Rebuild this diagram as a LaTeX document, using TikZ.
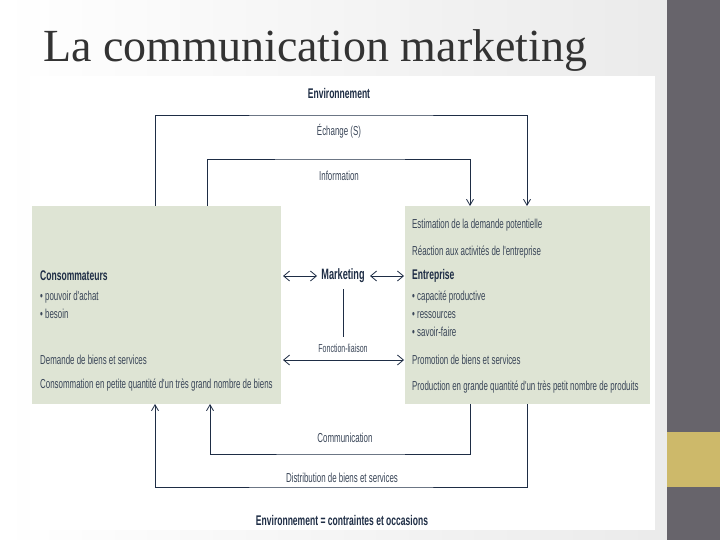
\documentclass[tikz,border=0pt]{standalone}
\usepackage{fontspec}
\setmainfont{Liberation Serif}
\newfontfamily\cond[FakeStretch=0.61]{Liberation Sans}
\usetikzlibrary{arrows.meta}
\definecolor{ink}{HTML}{1E2D45}
\definecolor{txt}{HTML}{3A4658}
\definecolor{boxg}{HTML}{DEE4D4}
\definecolor{side}{HTML}{67646B}
\definecolor{gold}{HTML}{CDB96A}
\tikzset{
  lbl/.style={font=\cond\fontsize{13}{15}\selectfont, text=txt, inner sep=0pt},
  blbl/.style={font=\cond\bfseries\fontsize{14}{16}\selectfont, text=ink, inner sep=0pt},
  line/.style={draw=ink, line width=0.8pt},
  arr/.style={line, -{Straight Barb[length=6pt,width=7pt]}},
  darr/.style={line, {Straight Barb[length=6pt,width=10pt]}-{Straight Barb[length=6pt,width=10pt]}},
  box/.style={fill=boxg, draw=none}
}
\begin{document}
\begin{tikzpicture}[x=1pt,y=-1pt]
\useasboundingbox (0,0) rectangle (720,540);
\fill[left color=white, right color=black!8] (0,0) rectangle (667,540);
\fill[side] (667,0) rectangle (720,540);
\fill[gold] (667,432) rectangle (720,487);
\fill[white] (30,76) rectangle (655,530);
\node[anchor=base west, inner sep=0pt, font=\fontsize{46}{48}\selectfont, text=black!80] (title) at (43,62) {La communication marketing};
% boxes
\node[box, minimum width=249pt, minimum height=198pt, anchor=north west, inner sep=0pt] (L) at (32,206) {};
\node[box, minimum width=245pt, minimum height=198pt, anchor=north west, inner sep=0pt] (R) at (405,206) {};
% top texts
\node[blbl] (env) at (339,93) {Environnement};
\node[lbl] (ech) at (339,131) {Échange (S)};
\node[lbl] (inf) at (339,176) {Information};
\node[lbl] (com) at (345,438) {Communication};
\node[lbl] (dist) at (342,478) {Distribution de biens et services};
\node[blbl] (env2) at (342,520) {Environnement = contraintes et occasions};
% loops
\coordinate (a1) at (155,206); \coordinate (a2) at (527,206);
\coordinate (b1) at (207,206); \coordinate (b2) at (470,206);
\draw[arr] (a1) |- (341,115) -| (a2);
\draw[arr] (b1) |- (341,159) -| (b2);
\coordinate (c1) at (155,404); \coordinate (c2) at (527,404);
\coordinate (d1) at (210,404); \coordinate (d2) at (470,404);
\draw[arr] (c2) |- (341,487) -| (c1);
\draw[arr] (d2) |- (341,454) -| (d1);
% marketing
\node[blbl, font=\cond\bfseries\fontsize{15}{17}\selectfont] (mk) at (343,276) {Marketing};
\coordinate (m1) at (283,276); \coordinate (m2) at (317,276);
\coordinate (m3) at (370,276); \coordinate (m4) at (404,276);
\draw[darr] (m1) -- (m2);
\draw[darr] (m3) -- (m4);
\coordinate (fl) at (343,337);
\draw[line] (mk.south) ++(0,6) -- (fl);
\node[lbl, font=\cond\fontsize{11.5}{13}\selectfont] (fon) at (343,348) {Fonction-liaison};
\coordinate (f1) at (283,360); \coordinate (f2) at (404,360);
\draw[darr] (f1) -- (f2);
% left box text
\node[blbl, anchor=west] (cons) at (40,276) {Consommateurs};
\node[lbl, anchor=west] (l1) at (40,297) {• pouvoir d'achat};
\node[lbl, anchor=west] (l2) at (40,314) {• besoin};
\node[lbl, anchor=west] (l3) at (40,360) {Demande de biens et services};
\node[lbl, anchor=west] (l4) at (40,385) {Consommation en petite quantité d'un très grand nombre de biens};
% right box text
\node[lbl, anchor=west] (r1) at (412,225) {Estimation de la demande potentielle};
\node[lbl, anchor=west] (r2) at (412,252) {Réaction aux activités de l'entreprise};
\node[blbl, anchor=west] (ent) at (412,276) {Entreprise};
\node[lbl, anchor=west] (r3) at (412,297) {• capacité productive};
\node[lbl, anchor=west] (r4) at (412,315) {• ressources};
\node[lbl, anchor=west] (r5) at (412,332) {• savoir-faire};
\node[lbl, anchor=west] (r6) at (412,360) {Promotion de biens et services};
\node[lbl, anchor=west] (r7) at (412,387) {Production en grande quantité d'un très petit nombre de produits};
\end{tikzpicture}
\end{document}
